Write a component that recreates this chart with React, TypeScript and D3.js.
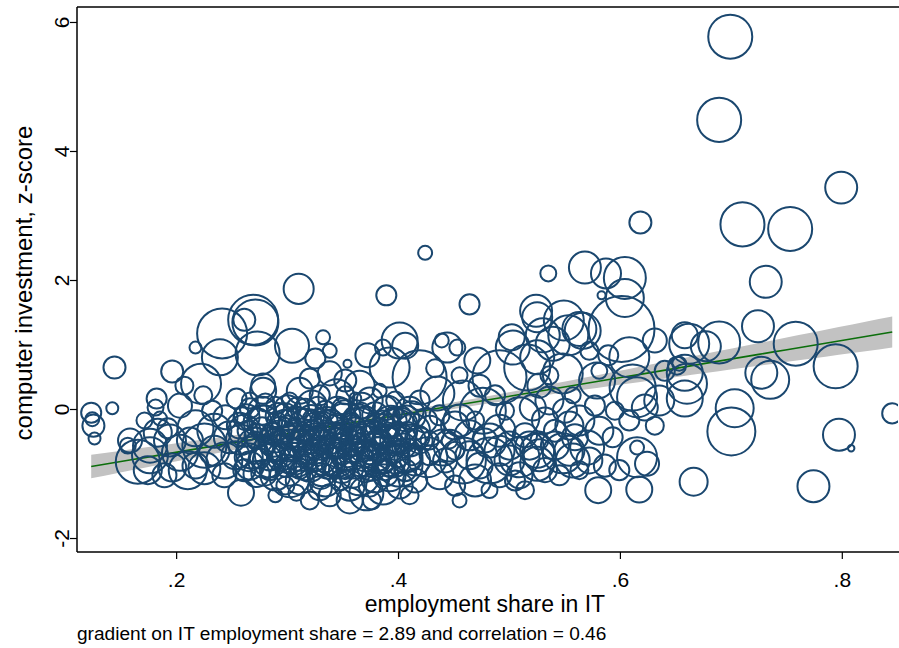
import React from 'react';
import * as d3 from 'd3';

// [IT employment share, computer investment z-score, employment weight]
type Row = [number, number, number];

const lowShare: Row[] = [
  [0.123, -0.05, 8.7], [0.124, -0.15, 4.2], [0.125, -0.25, 10.5], [0.126, -0.45, 3.1],
  [0.142, 0.02, 3.1], [0.144, 0.65, 10.5], [0.165, -0.81, 41.9], [0.176, -0.56, 25.0],
  [0.183, -0.36, 17.0], [0.182, 0.17, 8.7], [0.181, 0.03, 5.5], [0.185, -0.14, 4.2],
  [0.196, 0.59, 10.5], [0.217, 0.96, 3.1], [0.222, 0.40, 34.6], [0.203, -0.67, 28.0],
  [0.210, -0.94, 31.2], [0.196, -0.90, 17.0], [0.225, -0.91, 22.1], [0.203, 0.06, 12.5],
  [0.217, -0.29, 28.0], [0.225, -0.56, 41.9], [0.234, -0.64, 19.5], [0.241, 1.18, 54.1],
  [0.239, 0.81, 28.0], [0.207, 0.37, 7.0], [0.244, -0.12, 12.5], [0.248, -0.43, 22.1],
  [0.253, -0.71, 17.0], [0.258, -1.29, 14.6], [0.254, 0.17, 8.7], [0.261, 1.39, 10.5],
  [0.269, 1.39, 54.1], [0.271, 1.35, 45.8], [0.278, 0.37, 12.5], [0.273, 0.87, 41.9],
  [0.266, 0.02, 8.7], [0.273, -0.20, 17.0], [0.280, 0.11, 7.0], [0.284, -0.71, 19.5],
  [0.289, -0.48, 12.5], [0.268, -0.67, 22.1], [0.279, -0.98, 14.6], [0.232, -0.02, 8.7],
  [0.189, -1.02, 12.5], [0.174, -0.94, 17.0], [0.243, -1.02, 12.5], [0.261, -0.94, 10.5],
  [0.257, -0.25, 14.6], [0.224, 0.22, 7.0], [0.212, -0.48, 14.6], [0.156, -0.56, 5.5],
  [0.171, -0.17, 5.5], [0.192, -0.29, 8.7], [0.176, -0.71, 28.0], [0.194, -0.48, 22.1],
  [0.234, -0.33, 25.0], [0.243, -0.79, 28.0], [0.217, -0.87, 14.6], [0.158, -0.48, 12.5],
];

const midLowShare: Row[] = [
  [0.304, 0.99, 25.0], [0.310, 1.87, 19.5], [0.332, 1.12, 4.2], [0.325, 0.79, 8.7],
  [0.338, 0.56, 12.5], [0.354, 0.71, 1.4], [0.372, 0.84, 12.5], [0.386, 0.96, 5.5],
  [0.278, 0.29, 14.6], [0.311, 0.29, 14.6], [0.344, 0.19, 28.0], [0.374, 0.14, 14.6],
  [0.308, -1.29, 5.5], [0.302, -1.05, 34.6], [0.371, -1.30, 25.0], [0.389, 1.77, 8.7],
  [0.294, -0.33, 17.0], [0.298, -0.09, 12.5], [0.302, -0.56, 22.1], [0.307, -0.79, 17.0],
  [0.311, -0.25, 28.0], [0.316, -0.02, 12.5], [0.320, -0.48, 34.6], [0.325, -0.71, 19.5],
  [0.327, -0.25, 17.0], [0.331, -0.94, 22.1], [0.334, -0.02, 8.7], [0.338, -0.48, 28.0],
  [0.343, -0.71, 41.9], [0.345, -0.25, 12.5], [0.349, -0.94, 14.6], [0.352, -0.09, 19.5],
  [0.356, -0.48, 22.1], [0.361, -0.79, 28.0], [0.361, -0.29, 10.5], [0.365, -1.02, 34.6],
  [0.370, -0.17, 17.0], [0.372, -0.56, 41.9], [0.376, -0.87, 19.5], [0.379, -0.36, 12.5],
  [0.383, -0.71, 28.0], [0.386, -0.17, 8.7], [0.390, -0.48, 17.0], [0.392, -1.02, 22.1],
  [0.397, -0.33, 41.9], [0.399, -0.71, 12.5], [0.290, -0.17, 7.0], [0.296, -0.71, 10.5],
  [0.311, -0.94, 7.0], [0.317, -0.37, 5.5], [0.322, -0.14, 7.0], [0.335, -0.33, 5.5],
  [0.340, -0.87, 8.7], [0.353, -0.64, 7.0], [0.358, -0.17, 5.5], [0.365, -0.48, 4.2],
  [0.374, -1.18, 10.5], [0.381, -0.56, 7.0], [0.388, -0.87, 5.5], [0.394, -0.09, 5.5],
  [0.302, 0.14, 5.5], [0.329, 0.22, 8.7], [0.352, 0.22, 7.0], [0.365, 0.37, 19.5],
  [0.320, 0.48, 8.7], [0.284, -0.94, 8.7], [0.298, -1.18, 7.0], [0.329, -1.22, 12.5],
  [0.347, -1.10, 8.7], [0.356, -1.41, 14.6], [0.376, -1.41, 7.0], [0.320, -1.41, 7.0],
  [0.338, -1.33, 10.5], [0.289, -1.33, 4.2], [0.361, 0.17, 3.1], [0.383, 0.29, 4.2],
  [0.397, 0.14, 7.0], [0.352, 0.45, 10.5], [0.338, 0.91, 4.2],
];

const coreShare: Row[] = [
  [0.259, -0.09, 5.5], [0.264, -0.33, 8.7], [0.271, -0.48, 7.0], [0.277, -0.29, 10.5],
  [0.282, -0.56, 5.5], [0.286, -0.36, 8.7], [0.291, -0.60, 14.6], [0.295, -0.45, 7.0],
  [0.300, -0.25, 8.7], [0.304, -0.40, 12.5], [0.308, -0.60, 7.0], [0.313, -0.48, 10.5],
  [0.317, -0.71, 8.7], [0.322, -0.56, 5.5], [0.325, -0.40, 12.5], [0.329, -0.64, 7.0],
  [0.333, -0.48, 10.5], [0.336, -0.17, 8.7], [0.341, -0.56, 5.5], [0.344, -0.40, 14.6],
  [0.347, -0.60, 8.7], [0.351, -0.33, 7.0], [0.354, -0.71, 12.5], [0.358, -0.56, 8.7],
  [0.362, -0.40, 7.0], [0.367, -0.64, 10.5], [0.371, -0.33, 8.7], [0.374, -0.71, 7.0],
  [0.378, -0.56, 12.5], [0.381, -0.25, 5.5], [0.385, -0.48, 8.7], [0.389, -0.64, 7.0],
  [0.392, -0.25, 10.5], [0.396, -0.56, 5.5], [0.399, -0.40, 8.7], [0.405, -0.56, 12.5],
  [0.408, -0.33, 7.0], [0.412, -0.71, 8.7], [0.275, -0.76, 8.7], [0.298, -0.87, 10.5],
  [0.316, -0.91, 12.5], [0.334, -0.82, 8.7], [0.352, -0.94, 7.0], [0.370, -0.94, 12.5],
  [0.388, -0.94, 8.7], [0.406, -0.94, 10.5], [0.266, 0.14, 5.5], [0.289, 0.06, 7.0],
  [0.309, 0.02, 10.5], [0.327, 0.06, 7.0], [0.349, 0.02, 8.7], [0.367, -0.02, 5.5],
  [0.388, 0.02, 12.5], [0.403, -0.09, 7.0], [0.419, -0.48, 14.6], [0.428, -0.71, 8.7],
  [0.442, -0.79, 12.5], [0.451, -0.64, 7.0],
  [0.263, -0.12, 14.6], [0.278, -0.18, 22.1], [0.292, -0.10, 14.6], [0.307, -0.20, 22.1],
  [0.321, -0.13, 14.6], [0.335, -0.21, 22.1], [0.350, -0.11, 14.6], [0.364, -0.17, 22.1],
  [0.379, -0.09, 14.6], [0.393, -0.19, 22.1], [0.407, -0.14, 14.6],
  [0.258, -0.47, 19.5], [0.272, -0.41, 12.5], [0.287, -0.50, 19.5], [0.301, -0.43, 12.5],
  [0.316, -0.47, 19.5], [0.330, -0.42, 12.5], [0.344, -0.51, 19.5], [0.359, -0.44, 12.5],
  [0.373, -0.49, 19.5], [0.388, -0.41, 12.5], [0.402, -0.46, 19.5], [0.417, -0.43, 12.5],
  [0.265, -0.74, 17.0], [0.280, -0.80, 25.0], [0.294, -0.73, 17.0], [0.308, -0.78, 25.0],
  [0.323, -0.75, 17.0], [0.337, -0.81, 25.0], [0.352, -0.72, 17.0], [0.366, -0.77, 25.0],
  [0.380, -0.74, 17.0], [0.395, -0.79, 25.0], [0.409, -0.75, 17.0],
  [0.272, -1.00, 14.6], [0.301, -0.98, 14.6], [0.330, -1.03, 14.6], [0.359, -1.01, 14.6],
  [0.388, -0.99, 14.6],
];

const denseCore: Row[] = [
  [0.261, -0.33, 22.1], [0.271, -0.56, 28.0], [0.279, -0.17, 19.5], [0.284, -0.79, 25.0],
  [0.293, -0.48, 34.6], [0.298, -0.25, 22.1], [0.302, -0.71, 28.0], [0.307, -0.40, 19.5],
  [0.311, -0.64, 34.6], [0.316, -0.25, 25.0], [0.320, -0.87, 22.1], [0.325, -0.56, 28.0],
  [0.329, -0.33, 19.5], [0.334, -0.71, 34.6], [0.338, -0.25, 22.1], [0.343, -0.48, 25.0],
  [0.347, -0.79, 28.0], [0.352, -0.40, 22.1], [0.356, -0.64, 34.6], [0.361, -0.48, 19.5],
  [0.365, -0.25, 28.0], [0.370, -0.71, 22.1], [0.374, -0.48, 34.6], [0.379, -0.79, 19.5],
  [0.383, -0.33, 25.0], [0.388, -0.56, 31.2], [0.392, -0.79, 22.1], [0.397, -0.48, 19.5],
  [0.401, -0.25, 28.0], [0.406, -0.71, 25.0], [0.410, -0.48, 22.1], [0.415, -0.79, 19.5],
  [0.266, -0.87, 17.0], [0.289, -1.02, 19.5], [0.311, -1.10, 17.0], [0.334, -1.10, 22.1],
  [0.356, -1.18, 19.5], [0.379, -1.07, 17.0], [0.401, -1.18, 14.6], [0.277, -0.02, 17.0],
  [0.300, 0.02, 14.6], [0.322, 0.06, 19.5], [0.345, -0.02, 17.0], [0.367, 0.06, 14.6],
  [0.390, -0.02, 19.5], [0.412, -0.09, 17.0], [0.428, -0.33, 19.5], [0.446, -0.56, 22.1],
  [0.464, -0.71, 17.0], [0.482, -0.48, 25.0], [0.500, -0.79, 19.5], [0.518, -0.56, 17.0],
  [0.455, -0.17, 22.1], [0.473, -0.87, 14.6], [0.491, -0.64, 19.5], [0.509, -1.02, 14.6],
  [0.527, -0.71, 22.1], [0.541, -0.56, 17.0], [0.554, -0.64, 19.5], [0.572, -0.79, 14.6],
  [0.532, -0.17, 14.6], [0.554, -0.25, 17.0],
];

const midShare: Row[] = [
  [0.401, 1.07, 28.0], [0.444, 0.96, 19.5], [0.453, 0.96, 5.5], [0.471, 0.76, 14.6],
  [0.503, 0.96, 25.0], [0.516, 0.65, 45.8], [0.491, 0.50, 63.1], [0.419, 0.50, 63.1],
  [0.392, 0.65, 34.6], [0.435, 0.25, 25.0], [0.458, 0.14, 34.6], [0.476, -0.02, 45.8],
  [0.509, -0.12, 34.6], [0.521, 0.03, 14.6], [0.458, -0.79, 45.8], [0.482, -0.79, 45.8],
  [0.509, -0.74, 34.6], [0.426, -0.74, 34.6], [0.401, -0.84, 45.8], [0.386, -1.21, 25.0],
  [0.525, -0.84, 25.0], [0.440, -0.59, 28.0], [0.413, -0.33, 25.0], [0.464, 1.63, 8.7],
  [0.424, 2.43, 4.2], [0.439, 1.07, 4.2], [0.502, 1.12, 14.6], [0.530, 1.15, 25.0],
  [0.524, 1.53, 22.1], [0.406, 0.99, 14.6], [0.410, -0.02, 17.0], [0.424, -0.17, 12.5],
  [0.437, -0.09, 8.7], [0.451, -0.25, 17.0], [0.464, -0.40, 19.5], [0.478, -0.48, 12.5],
  [0.491, -0.33, 22.1], [0.500, -0.56, 17.0], [0.514, -0.40, 12.5], [0.415, -1.10, 12.5],
  [0.437, -1.02, 17.0], [0.451, -1.18, 8.7], [0.469, -1.10, 22.1], [0.491, -1.02, 12.5],
  [0.505, -1.10, 8.7], [0.428, -0.48, 7.0], [0.446, -0.48, 5.5], [0.469, -0.17, 7.0],
  [0.487, 0.22, 8.7], [0.496, -0.02, 7.0], [0.419, 0.14, 8.7], [0.433, 0.64, 7.0],
  [0.455, 0.53, 5.5], [0.473, 0.37, 10.5], [0.527, 0.37, 12.5], [0.410, -1.33, 7.0],
  [0.482, -1.25, 5.5], [0.514, -1.25, 7.0], [0.455, -1.41, 4.2],
];

const highShare: Row[] = [
  [0.525, 1.43, 19.5], [0.601, 1.25, 94.2], [0.553, 1.15, 34.6], [0.563, 1.25, 25.0],
  [0.539, 1.02, 25.0], [0.525, 0.81, 25.0], [0.548, 0.56, 34.6], [0.579, 0.45, 28.0],
  [0.608, 0.81, 34.6], [0.611, 0.34, 45.8], [0.615, 0.19, 34.6], [0.622, 0.03, 14.6],
  [0.608, -0.17, 8.7], [0.593, -0.43, 8.7], [0.548, -0.68, 34.6], [0.525, -0.64, 25.0],
  [0.570, -0.59, 25.0], [0.557, -0.79, 25.0], [0.615, -0.74, 34.6], [0.624, -0.84, 12.5],
  [0.615, -0.59, 4.2], [0.580, -1.25, 14.6], [0.617, -1.24, 14.6],
  [0.660, 0.40, 34.6], [0.651, 0.68, 7.0], [0.662, 1.02, 34.6], [0.568, 2.20, 22.1],
  [0.587, 2.11, 19.5], [0.604, 2.04, 38.1], [0.604, 1.73, 31.2], [0.583, 1.77, 1.4],
  [0.535, 2.11, 5.5], [0.549, 1.38, 34.6], [0.566, 1.22, 28.0], [0.658, 1.15, 14.6],
  [0.618, 2.90, 10.5], [0.536, 0.14, 17.0], [0.550, -0.02, 12.5], [0.563, -0.17, 19.5],
  [0.577, 0.06, 8.7], [0.541, -0.33, 10.5], [0.559, -0.43, 14.6], [0.581, -0.33, 17.0],
  [0.595, -0.02, 7.0], [0.635, 0.14, 19.5], [0.640, 0.60, 8.7], [0.631, 1.07, 12.5],
  [0.532, -0.94, 12.5], [0.545, -1.02, 8.7], [0.563, -0.94, 7.0], [0.586, -0.87, 10.5],
  [0.599, -0.94, 8.7], [0.581, 0.60, 5.5], [0.589, 0.84, 8.7], [0.572, 0.91, 7.0],
  [0.536, 0.53, 7.0], [0.527, -0.48, 7.0], [0.557, 0.22, 5.5], [0.631, -0.25, 7.0],
];

const topShare: Row[] = [
  [0.699, 5.78, 41.9], [0.689, 4.49, 41.9], [0.799, 3.44, 22.1], [0.710, 2.87, 41.9],
  [0.753, 2.80, 41.9], [0.731, 1.98, 22.1], [0.724, 1.29, 22.1], [0.689, 1.04, 38.1],
  [0.677, 0.98, 19.5], [0.758, 1.02, 41.9], [0.794, 0.67, 41.9], [0.727, 0.57, 22.1],
  [0.735, 0.46, 31.2], [0.658, 0.57, 28.0], [0.658, 0.17, 28.0], [0.703, 0.02, 31.2],
  [0.700, -0.34, 49.8], [0.797, -0.39, 22.1], [0.808, -0.60, 0.9], [0.845, -0.06, 8.7],
  [0.666, -1.12, 17.0], [0.774, -1.19, 22.1], [0.653, 0.71, 4.2],
];

const industries: Row[] = [
  ...lowShare, ...midLowShare, ...coreShare, ...denseCore, ...midShare, ...highShare, ...topShare,
];

const xTicks = [0.2, 0.4, 0.6, 0.8];
const yTicks = [-2, 0, 2, 4, 6];
const xDomain = [0.1102, 0.8502];
const yDomain = [-2.209, 6.24];

// linear fit and its confidence band
const fitSlope = 2.89;
const fitIntercept = -1.24;
const ciFloor = 0.05;
const ciSpread = 0.57;
const ciCentre = 0.43;

const xTitle = 'employment share in IT';
const yTitle = 'computer investment, z-score';
const note = 'gradient on IT employment share = 2.89 and correlation = 0.46';

const W = 899;
const H = 648;
const plot = { left: 77, right: 898, top: 7, bottom: 552 };
const navy = '#1a476f';
const font = '"Liberation Sans", Arial, sans-serif';

const fmtX = (d: number) => d3.format('.1f')(d).replace(/^0/, '');

const App: React.FC = () => {
  const x = d3.scaleLinear().domain(xDomain).range([plot.left, plot.right]);
  const y = d3.scaleLinear().domain(yDomain).range([plot.bottom, plot.top]);
  const r = d3.scaleSqrt().domain([0, 100]).range([0, 34]);

  const [xMin, xMax] = d3.extent(industries, d => d[0]) as [number, number];
  const fitXs = d3.range(0, 61).map(i => xMin + ((xMax - xMin) * i) / 60);
  const fit = (v: number) => fitIntercept + fitSlope * v;
  const half = (v: number) => Math.sqrt(ciFloor ** 2 + ciSpread ** 2 * (v - ciCentre) ** 2);

  const band = d3.area<number>()
    .x(d => x(d))
    .y0(d => y(fit(d) - half(d)))
    .y1(d => y(fit(d) + half(d)))(fitXs);
  const line = d3.line<number>().x(d => x(d)).y(d => y(fit(d)))(fitXs);

  return (
    <div style={{ position: 'absolute', left: 0, top: 0 }}>
      <svg width={W} height={H} style={{ display: 'block', background: '#fff' }} fontFamily={font}>
        <defs>
          <clipPath id="plotClip">
            <rect x={plot.left} y={plot.top} width={plot.right - plot.left} height={plot.bottom - plot.top} />
          </clipPath>
        </defs>

        <g clipPath="url(#plotClip)">
          <path d={band ?? ''} fill="#c2c2c2" />
          <path d={line ?? ''} fill="none" stroke="#0b6e0b" strokeWidth={1.6} />
          {industries.map((d, i) => (
            <circle key={i} cx={x(d[0])} cy={y(d[1])} r={r(d[2])}
              fill="none" stroke={navy} strokeWidth={2} />
          ))}
        </g>

        {/* frame */}
        <line x1={plot.left} x2={W} y1={plot.top} y2={plot.top} stroke="#000" strokeWidth={1.5} />
        <line x1={plot.left} x2={plot.left} y1={plot.top} y2={plot.bottom} stroke="#000" strokeWidth={1.5} />
        <line x1={plot.left} x2={W} y1={plot.bottom} y2={plot.bottom} stroke="#000" strokeWidth={1.5} />

        {/* y axis */}
        {yTicks.map(t => (
          <g key={t}>
            <line x1={plot.left - 7} x2={plot.left} y1={y(t)} y2={y(t)} stroke="#000" strokeWidth={1.2} />
            <text transform={`translate(61,${y(t)}) rotate(-90)`} textAnchor="middle"
              dominantBaseline="central" fontSize={21}>{t}</text>
          </g>
        ))}
        <text transform={`translate(23,${283}) rotate(-90)`}
          textAnchor="middle" dominantBaseline="central" fontSize={24}>{yTitle}</text>

        {/* x axis */}
        {xTicks.map(t => (
          <g key={t}>
            <line x1={x(t)} x2={x(t)} y1={plot.bottom} y2={plot.bottom + 7} stroke="#000" strokeWidth={1.2} />
            <text x={x(t)} y={587} textAnchor="middle" fontSize={21}>{fmtX(t)}</text>
          </g>
        ))}
        <text x={485} y={612} textAnchor="middle" fontSize={23}>{xTitle}</text>
        <text x={77} y={640} fontSize={19.1}>{note}</text>
      </svg>
    </div>
  );
};

export default App;
